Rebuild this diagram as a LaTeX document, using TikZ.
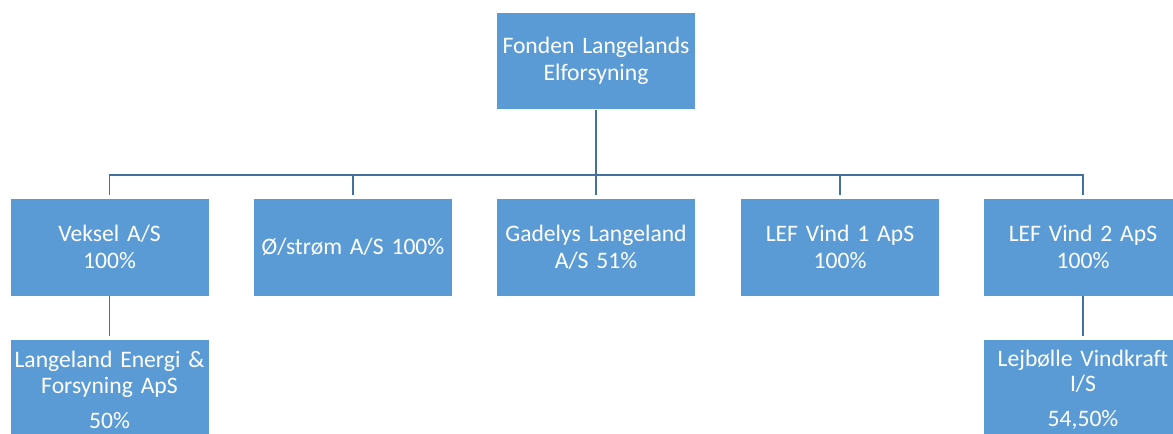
\documentclass[tikz,border=0pt]{standalone}
\usepackage{fontspec}
\setmainfont{Carlito}
\usepackage{tikz}
\usepackage{xcolor}
\usetikzlibrary{positioning, calc}
\definecolor{OfficeBlue}{HTML}{5B9BD5}
\definecolor{LineBlue}{HTML}{41719C}
\tikzset{
    orgbox/.style={rectangle, fill=OfficeBlue, draw=white, line width=0.4pt,
                   text=white, minimum width=4.975cm, minimum height=2.45cm,
                   inner sep=0pt, text width=4.95cm, align=center,
                   font=\fontsize{16.8}{19.3}\selectfont},
    subbox/.style={orgbox, minimum height=2.55cm,
                   font=\fontsize{16.8}{18}\selectfont},
    orgline/.style={draw=LineBlue, line width=1pt, shorten >=2pt}
}
\begin{document}
\begin{tikzpicture}[x=0.025cm, y=-0.025cm]
    \useasboundingbox (0,0) rectangle (1173,434);

    % Owner
    \node[orgbox, minimum height=2.425cm] (fond) at (596,61) {Fonden Langelands\\Elforsyning};

    % Subsidiaries
    \node[orgbox] (veksel)  at (109.5,247) {Veksel A/S\\100\%};
    \node[orgbox] (ostrom)  at (353,247)   {Ø/strøm A/S 100\%};
    \node[orgbox] (gadelys) at (596,247)   {Gadelys Langeland\\A/S 51\%};
    \node[orgbox] (vind1)   at (840,247)   {LEF Vind 1 ApS\\100\%};
    \node[orgbox] (vind2)   at (1083,247)  {LEF Vind 2 ApS\\100\%};

    % Second level
    \node[subbox] (energi) at (109.5,390) {Langeland Energi \&\\Forsyning ApS\\[7pt]50\%};
    \node[subbox] (lejb)   at (1083,390)  {Lejbølle Vindkraft\\I/S\\[7pt]54,50\%};

    % Connectors
    \coordinate (bus) at (596,175);
    \draw[orgline, shorten >=0pt] (fond.south) -- (bus);
    \foreach \child in {veksel, ostrom, gadelys, vind1, vind2}
        \draw[orgline] (bus) -| (\child.north);
    \draw[orgline] (veksel.south) -- (energi.north);
    \draw[orgline] (vind2.south) -- (lejb.north);
\end{tikzpicture}
\end{document}
